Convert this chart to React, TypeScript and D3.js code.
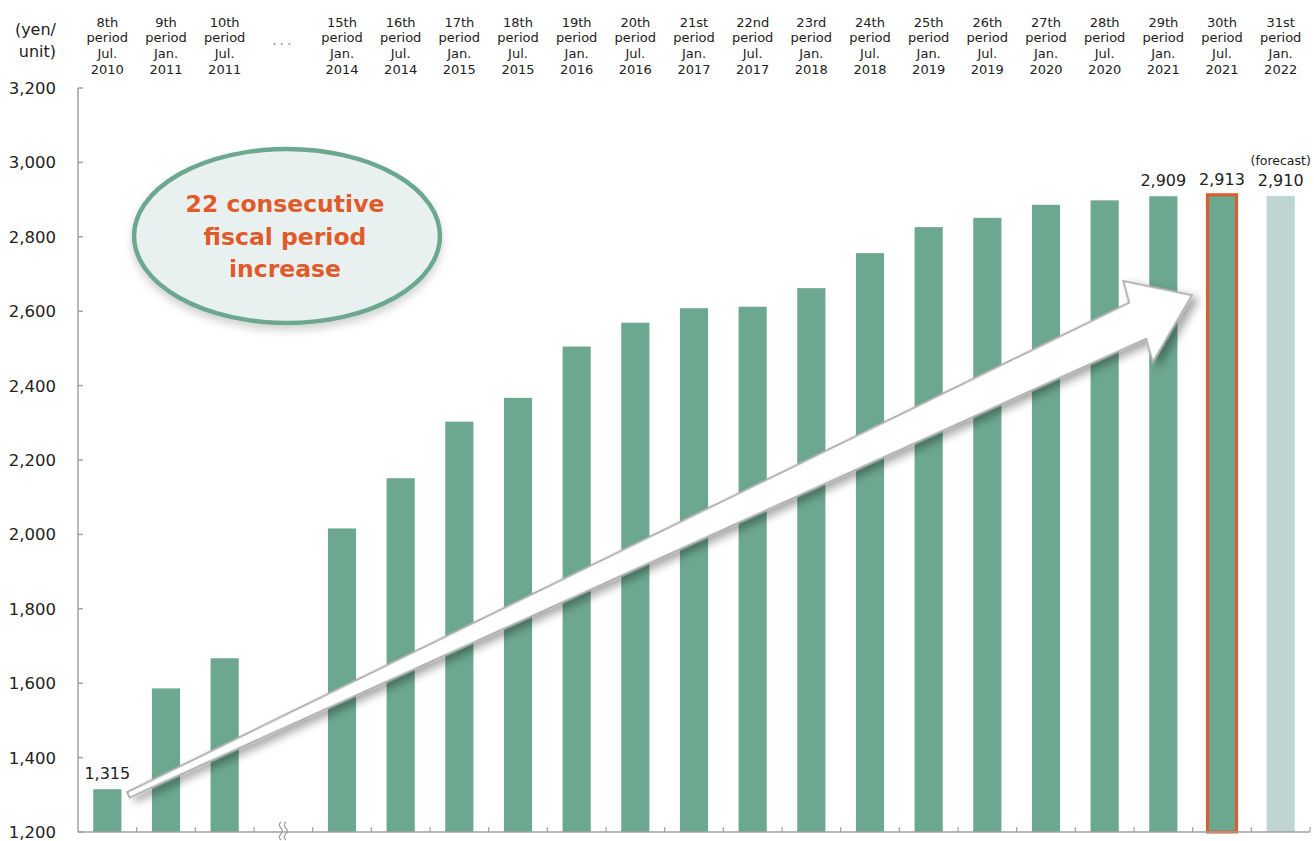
import React from "react";
import * as d3 from "d3";

const periods = ["8th", "9th", "10th", "", "15th", "16th", "17th", "18th", "19th", "20th", "21st", "22nd", "23rd", "24th", "25th", "26th", "27th", "28th", "29th", "30th", "31st"];
const months = ["Jul.", "Jan.", "Jul.", "", "Jan.", "Jul.", "Jan.", "Jul.", "Jan.", "Jul.", "Jan.", "Jul.", "Jan.", "Jul.", "Jan.", "Jul.", "Jan.", "Jul.", "Jan.", "Jul.", "Jan."];
const years = ["2010", "2011", "2011", "", "2014", "2014", "2015", "2015", "2016", "2016", "2017", "2017", "2018", "2018", "2019", "2019", "2020", "2020", "2021", "2021", "2022"];
const values: (number | null)[] = [1315, 1586, 1667, null, 2016, 2151, 2303, 2367, 2505, 2569, 2608, 2612, 2662, 2756, 2826, 2851, 2886, 2898, 2909, 2913, 2910];
const labeledIdx = [0, 18, 19, 20];
const highlightIdx = 19;
const forecastIdx = 20;
const gapIdx = 3;
const yTicks = [1200, 1400, 1600, 1800, 2000, 2200, 2400, 2600, 2800, 3000, 3200];
const bubbleLines = ["22 consecutive", "fiscal period", "increase"];
const unitLines = ["(yen/", "unit)"];

const FONT = "'DejaVu Sans', Verdana, sans-serif";
const GREEN = "#6ca78f";
const FORECAST = "#bed5d1";
const ORANGE = "#e05a2a";
const AXIS = "#a0a0a0";

export default function App() {
  const W = 1314;
  const H = 841;
  const x = d3.scaleBand<number>().domain(d3.range(periods.length)).range([78, 1310]).padding(0);
  const bandW = x.bandwidth();
  const barW = bandW * 0.48;
  const y = d3.scaleLinear().domain([1200, 3200]).range([832, 88]);
  const fmt = d3.format(",");
  const cx = (i: number) => (x(i) as number) + bandW / 2;

  // arrow anchored to data space
  const S = [cx(0) + barW / 2 + 7, y(1300)];
  const T = [cx(highlightIdx) - barW / 2 - 16, y(2643)];
  const dx = T[0] - S[0];
  const dy = T[1] - S[1];
  const L = Math.sqrt(dx * dx + dy * dy);
  const ang = (Math.atan2(dy, dx) * 180) / Math.PI;
  const head = 60;
  const arrowPts = [
    [0, -3],
    [L - head, -20],
    [L - head + 4, -42],
    [L, 0],
    [L - head - 4, 44],
    [L - head, 20],
    [0, 3],
  ]
    .map((p) => p.join(","))
    .join(" ");

  const squigX = cx(gapIdx);

  return (
    <svg
      width={W}
      height={H}
      style={{ position: "absolute", left: 0, top: 0, background: "#fff" }}
      fontFamily={FONT}
    >
      <defs>
        <filter id="arrowShadow" x="-10%" y="-10%" width="130%" height="140%">
          <feDropShadow dx="4" dy="6" stdDeviation="4" floodColor="#000" floodOpacity="0.35" />
        </filter>
        <filter id="bubbleShadow" x="-10%" y="-10%" width="130%" height="140%">
          <feDropShadow dx="0" dy="5" stdDeviation="4" floodColor="#000" floodOpacity="0.18" />
        </filter>
      </defs>

      {/* unit label */}
      {unitLines.map((t, i) => (
        <text key={t} x={56} y={35 + i * 22} fontSize={16} textAnchor="end" fill="#222">
          {t}
        </text>
      ))}

      {/* header category labels */}
      {periods.map((p, i) =>
        i === gapIdx ? (
          <text key={i} x={cx(i)} y={45} fontSize={14} textAnchor="middle" fill="#888" letterSpacing={3}>
            ...
          </text>
        ) : (
          <g key={i} fontSize={13} textAnchor="middle" fill="#222">
            <text x={cx(i)} y={27}>{p}</text>
            <text x={cx(i)} y={42}>period</text>
            <text x={cx(i)} y={58}>{months[i]}</text>
            <text x={cx(i)} y={74}>{years[i]}</text>
          </g>
        )
      )}

      {/* y axis */}
      <line x1={78} x2={78} y1={y(3200)} y2={y(1200)} stroke={AXIS} strokeWidth={1.5} />
      {yTicks.map((t) => (
        <g key={t}>
          <line x1={78} x2={83} y1={y(t)} y2={y(t)} stroke={AXIS} strokeWidth={1.5} />
          <text x={56} y={y(t)} dy="0.36em" fontSize={16.5} textAnchor="end" fill="#222">
            {fmt(t)}
          </text>
        </g>
      ))}

      {/* bars */}
      {values.map((v, i) =>
        v == null ? null : (
          <rect
            key={i}
            x={cx(i) - barW / 2}
            y={y(v)}
            width={barW}
            height={y(1200) - y(v)}
            fill={i === forecastIdx ? FORECAST : GREEN}
          />
        )
      )}
      {/* highlight outline */}
      <rect
        x={cx(highlightIdx) - barW / 2 - 0.5}
        y={y(values[highlightIdx] as number)}
        width={barW + 1}
        height={y(1200) - y(values[highlightIdx] as number)}
        fill="none"
        stroke={ORANGE}
        strokeWidth={3}
      />

      {/* x axis */}
      <line x1={78} x2={1310} y1={y(1200)} y2={y(1200)} stroke={AXIS} strokeWidth={1.5} />
      {d3.range(1, periods.length + 1).map((i) => {
        const xx = 78 + i * bandW;
        return <line key={i} x1={xx} x2={xx} y1={y(1200)} y2={y(1200) - 5} stroke={AXIS} strokeWidth={1.2} />;
      })}
      {/* axis break squiggle */}
      {[-2.5, 2.5].map((o) => (
        <path
          key={o}
          d={`M${squigX + o},822 q-3,3 0,6 q3,3 0,6 q-3,3 0,6`}
          fill="none"
          stroke={AXIS}
          strokeWidth={1.2}
        />
      ))}

      {/* value labels */}
      {labeledIdx.map((i) => (
        <text key={i} x={cx(i)} y={y(values[i] as number) - 10} fontSize={16} textAnchor="middle" fill="#222">
          {fmt(values[i] as number)}
        </text>
      ))}
      <text x={cx(forecastIdx)} y={y(values[forecastIdx] as number) - 31} fontSize={12.5} textAnchor="middle" fill="#222">
        (forecast)
      </text>

      {/* bubble */}
      <g filter="url(#bubbleShadow)">
        <ellipse cx={287} cy={236} rx={153} ry={87} fill="#e9f1f0" stroke={GREEN} strokeWidth={4.5} />
      </g>
      {bubbleLines.map((t, i) => (
        <text
          key={t}
          x={285}
          y={212 + i * 32.5}
          fontSize={23.5}
          fontWeight="bold"
          textAnchor="middle"
          fill={ORANGE}
        >
          {t}
        </text>
      ))}

      {/* arrow */}
      <g transform={`translate(${S[0]},${S[1]}) rotate(${ang})`} filter="url(#arrowShadow)">
        <polygon points={arrowPts} fill="#fff" stroke="#b0b0b0" strokeWidth={2} strokeLinejoin="miter" />
      </g>
    </svg>
  );
}
